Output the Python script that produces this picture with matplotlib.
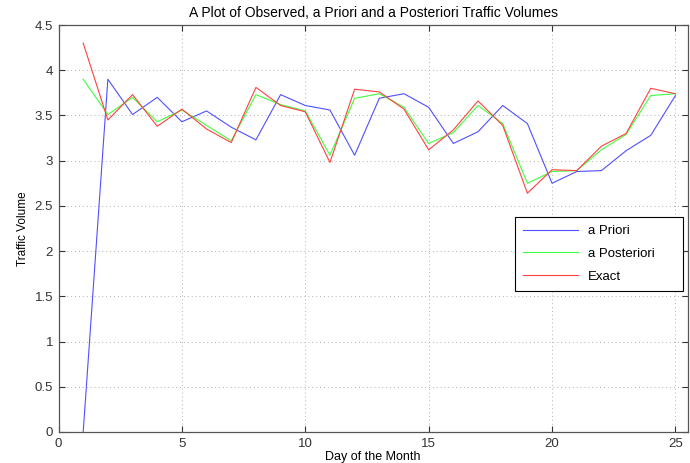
import matplotlib
matplotlib.use("Agg")
import matplotlib.pyplot as plt

plt.rcParams["font.family"] = ["Liberation Sans", "DejaVu Sans"]
plt.rcParams["font.size"] = 9

days = list(range(1, 26))

a_priori = [0.00, 3.90, 3.51, 3.70, 3.43, 3.55, 3.37, 3.23, 3.73, 3.61,
            3.56, 3.06, 3.69, 3.74, 3.59, 3.19, 3.32, 3.61, 3.41, 2.75,
            2.88, 2.89, 3.11, 3.28, 3.72]
a_posteriori = [3.90, 3.51, 3.70, 3.43, 3.56, 3.39, 3.22, 3.73, 3.62, 3.55,
                3.06, 3.69, 3.74, 3.59, 3.19, 3.31, 3.61, 3.41, 2.75, 2.88,
                2.89, 3.12, 3.29, 3.72, 3.74]
exact = [4.30, 3.45, 3.73, 3.38, 3.57, 3.35, 3.20, 3.81, 3.61, 3.54,
         2.98, 3.79, 3.76, 3.57, 3.12, 3.34, 3.66, 3.39, 2.64, 2.90,
         2.89, 3.16, 3.30, 3.80, 3.74]

fig = plt.figure(figsize=(6.9, 4.63), dpi=100)
ax = fig.add_axes([0.0848, 0.067, 0.912, 0.879])

ax.plot(days, a_priori, color="#5050ff", linewidth=0.8, label="a Priori")
ax.plot(days, a_posteriori, color="#40ff40", linewidth=0.8, label="a Posteriori")
ax.plot(days, exact, color="#ff4040", linewidth=0.8, label="Exact")

ax.set_xlim(0, 25.5)
ax.set_ylim(0, 4.5)
ax.set_xticks([0, 5, 10, 15, 20, 25])
ax.set_yticks([0, 0.5, 1, 1.5, 2, 2.5, 3, 3.5, 4, 4.5])
ax.set_yticklabels(["0", "0.5", "1", "1.5", "2", "2.5", "3", "3.5", "4", "4.5"])

ax.grid(True, linestyle=(0, (1, 3)), color="#b0b0b0", linewidth=0.7)
ax.tick_params(direction="in", top=True, right=True, length=4, colors="#333333",
               labelsize=9.5, pad=4)
for s in ax.spines.values():
    s.set_color("#555555")
    s.set_linewidth(0.9)

ax.set_title("A Plot of Observed, a Priori and a Posteriori Traffic Volumes", fontsize=10, pad=6)
ax.set_xlabel("Day of the Month", fontsize=9, labelpad=1)
ax.set_ylabel("Traffic Volume", fontsize=8.5, labelpad=4)

leg = ax.legend(loc="upper left", bbox_to_anchor=(0.725, 0.354, 0.267, 0.174),
                mode="expand", borderaxespad=0, fancybox=False,
                edgecolor="black", framealpha=1, handlelength=4.2,
                handletextpad=0.75, borderpad=0.6, labelspacing=0.8, fontsize=9.5)
leg.get_frame().set_linewidth(0.8)

fig.savefig("out.png", dpi=100)
